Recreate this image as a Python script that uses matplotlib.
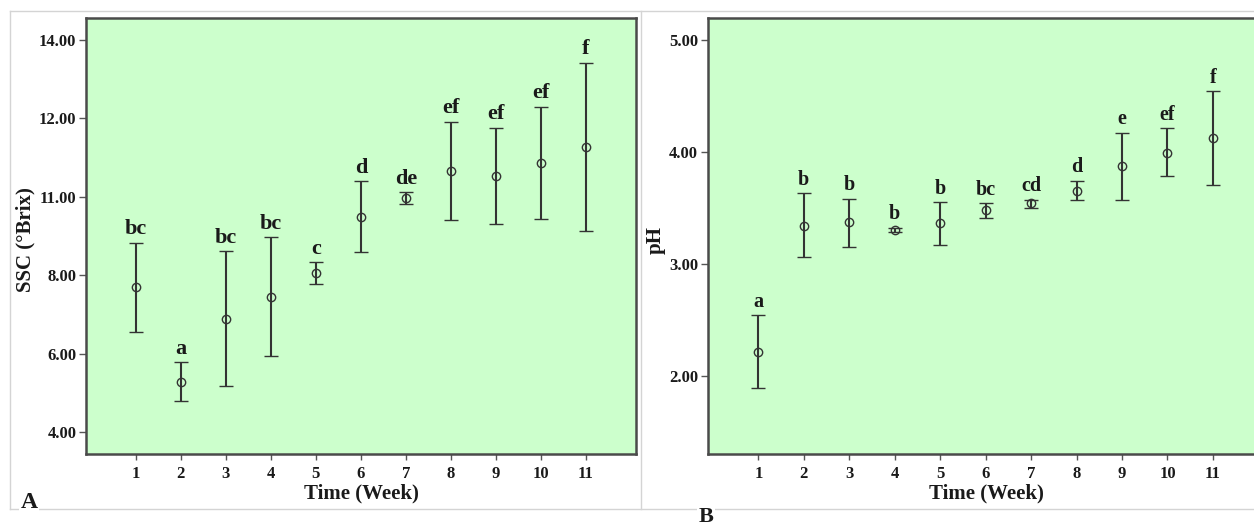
import numpy
from matplotlib import pyplot
from matplotlib.lines import Line2D

pyplot.rcParams['font.family'] = 'Liberation Serif'
pyplot.rcParams['font.weight'] = 'bold'

weeks = [1, 2, 3, 4, 5, 6, 7, 8, 9, 10, 11]

# panel A: soluble solids
ssc_mean = [7.69, 5.28, 6.88, 7.45, 8.06, 9.49, 9.96, 10.66, 10.52, 10.85, 11.26]
ssc_low = [6.55, 4.79, 5.17, 5.95, 7.78, 8.60, 9.82, 9.41, 9.30, 9.43, 9.12]
ssc_high = [8.83, 5.79, 8.62, 8.97, 8.34, 10.39, 10.11, 11.91, 11.76, 12.30, 13.42]
ssc_letters = ['bc', 'a', 'bc', 'bc', 'c', 'd', 'de', 'ef', 'ef', 'ef', 'f']
ssc_ticks = [4, 6, 8, 10, 12, 14]
ssc_tick_labels = ['4.00', '6.00', '8.00', '11.00', '12.00', '14.00']  # as printed

# panel B: pH
ph_mean = [2.21, 3.34, 3.37, 3.30, 3.36, 3.48, 3.54, 3.65, 3.87, 3.99, 4.12]
ph_low = [1.89, 3.06, 3.15, 3.28, 3.17, 3.41, 3.50, 3.57, 3.57, 3.78, 3.70]
ph_high = [2.54, 3.63, 3.58, 3.32, 3.55, 3.54, 3.57, 3.74, 4.17, 4.21, 4.54]
ph_letters = ['a', 'b', 'b', 'b', 'b', 'bc', 'cd', 'd', 'e', 'ef', 'f']
ph_ticks = [2, 3, 4, 5]
ph_tick_labels = ['2.00', '3.00', '4.00', '5.00']

W, H = 1254.0, 525.0
line_color = '#333333'
text_color = '#1a1a1a'


def draw_panel(ax, mean, low, high, letters, ticks, tick_labels, xlim, ylim, letter_size):
    mean = numpy.array(mean)
    yerr = [mean - numpy.array(low), numpy.array(high) - mean]
    ax.errorbar(weeks, mean, yerr=yerr, fmt='o', mfc='none', mec=line_color,
                ms=6, mew=1.0, ecolor=line_color, elinewidth=1.5,
                capsize=5, capthick=1.5)
    for w, top, lab in zip(weeks, high, letters):
        ax.annotate(lab, (w, top), xytext=(0, 6), textcoords='offset points',
                    ha='center', va='baseline', fontsize=letter_size,
                    fontweight='bold', color=text_color)
    ax.set_facecolor('#ccffcc')
    for s in ax.spines.values():
        s.set_color('#4a4a4a')
        s.set_linewidth(1.8)
    ax.set_xlim(xlim)
    ax.set_ylim(ylim)
    ax.set_xticks(weeks)
    ax.set_xticklabels([str(w) for w in weeks])
    ax.set_yticks(ticks)
    ax.set_yticklabels(tick_labels)
    ax.tick_params(axis='x', length=4, width=1, color='#555555', pad=5,
                   labelsize=12, labelcolor=text_color)
    ax.tick_params(axis='y', length=5, width=1, color='#555555', pad=2,
                   labelsize=12, labelcolor=text_color)


fig = pyplot.figure(figsize=(12.54, 5.25), dpi=100)

bottom = 1 - 454 / H
height = (454 - 18.3) / H
ax_a = fig.add_axes([86 / W, bottom, (636 - 86) / W, height])
ax_b = fig.add_axes([707.7 / W, bottom, (1262 - 707.7) / W, height])

draw_panel(ax_a, ssc_mean, ssc_low, ssc_high, ssc_letters, ssc_ticks,
           ssc_tick_labels, (-0.104, 12.11), (3.44, 14.55), 16)
draw_panel(ax_b, ph_mean, ph_low, ph_high, ph_letters, ph_ticks,
           ph_tick_labels, (-0.114, 12.08), (1.30, 5.19), 14.5)

# axis titles
fig.text(25 / W, 1 - 240 / H, 'SSC (°Brix)', rotation=90, ha='center', va='center',
         fontsize=15, fontweight='bold', color=text_color)
fig.text(656 / W, 1 - 240 / H, 'pH', rotation=90, ha='center', va='center',
         fontsize=15, fontweight='bold', color=text_color)
fig.text(361 / W, 1 - 493 / H, 'Time (Week)', ha='center', va='center',
         fontsize=15, fontweight='bold', color=text_color)
fig.text(986 / W, 1 - 493 / H, 'Time (Week)', ha='center', va='center',
         fontsize=15, fontweight='bold', color=text_color)

# light cell borders around the two panels
grid_color = '#d4d4d4'
for xs, ys in [([10, W], [10.7, 10.7]), ([10, W], [509, 509]),
               ([10, 10], [10.7, 509]), ([640.7, 640.7], [10.7, 509])]:
    fig.add_artist(Line2D([x / W for x in xs], [1 - y / H for y in ys],
                          color=grid_color, lw=1, transform=fig.transFigure))

fig.text(29 / W, 1 - 503 / H, 'A', ha='center', va='center', fontsize=17,
         fontweight='bold', color=text_color,
         bbox=dict(facecolor='white', edgecolor='none', pad=1))
fig.text(706 / W, 1 - 517 / H, 'B', ha='center', va='center', fontsize=16,
         fontweight='bold', color=text_color,
         bbox=dict(facecolor='white', edgecolor='none', pad=1))

pyplot.savefig('out.png', dpi=100)
